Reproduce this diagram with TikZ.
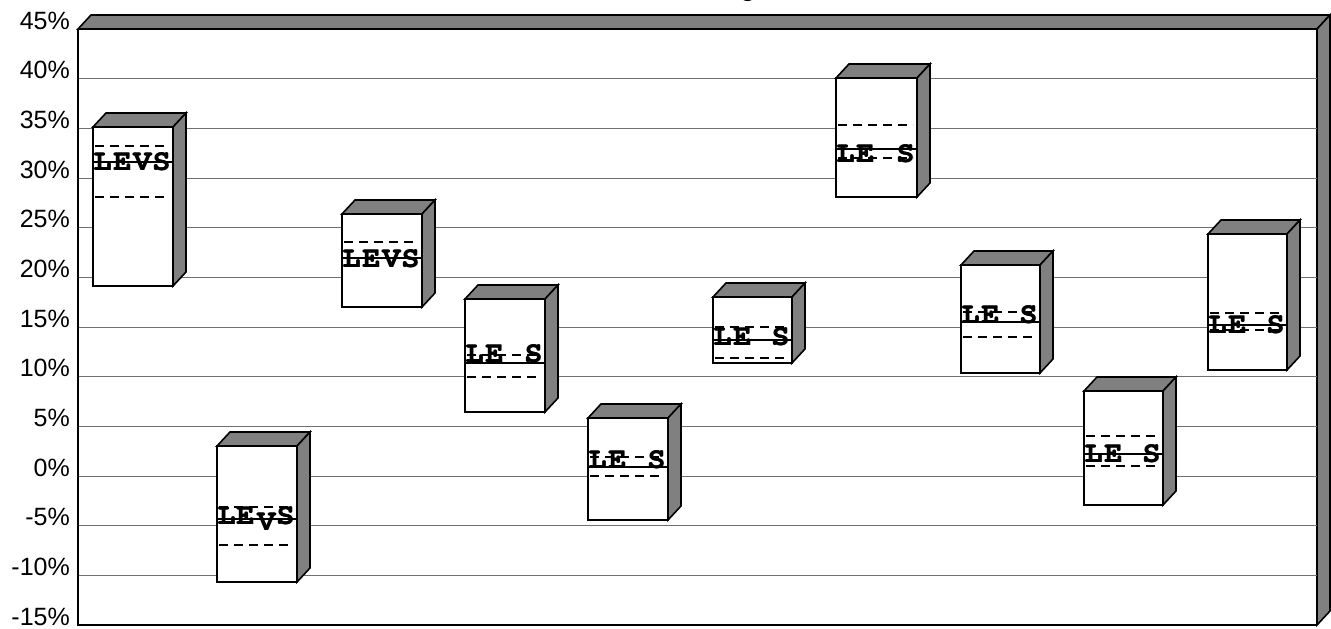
\documentclass[tikz,border=0pt]{standalone}
\usepackage[T1]{fontenc}
\usepackage{fontspec}
\setmainfont{Liberation Sans}
\definecolor{wallgray}{HTML}{808080}
\definecolor{gridgray}{HTML}{707070}
\newcommand\courbold{\fontencoding{T1}\fontfamily{pcr}\fontseries{b}\fontshape{n}\selectfont}
\tikzset{
  boxline/.style={draw=black, line width=1.6pt, line join=miter},
  gridln/.style={draw=gridgray, line width=0.9pt},
  dashln/.style={draw=black, line width=1.7pt, dash pattern=on 9pt off 6pt},
  solidln/.style={draw=black, line width=1.3pt},
  axislab/.style={font=\fontsize{25}{25}\selectfont, anchor=base east, inner sep=0pt},
  ltr/.style={font=\courbold\fontsize{30}{30}\selectfont, anchor=base, inner sep=0pt},
}
% #1 left #2 top #3 right #4 bottom
\newcommand\cbox[4]{%
  \filldraw[boxline, fill=wallgray] (#1,#2) -- ++(13,-14) -- ++({#3-#1},0) -- (#3,#2) -- cycle;
  \filldraw[boxline, fill=wallgray] (#3,#2) -- ++(13,-14) -- ++(0,{#4-#2}) -- (#3,#4) -- cycle;
  \filldraw[boxline, fill=white] (#1,#2) rectangle (#3,#4);
}
\newcommand\dashl[3]{\draw[dashln] ({#1+2},#3) -- ({#2-4},#3);}
\newcommand\solidl[3]{\draw[solidln] (#1,#3) -- (#2,#3);}
\newcommand\ltrn[3]{\node[ltr] at (#1,#2) {#3};\node[ltr] at ({#1+0.8},#2) {#3};}
\begin{document}
\begin{tikzpicture}[x=1pt,y=-1pt]
\useasboundingbox (0,0) rectangle (1331,629);
% partial title (cut off at the top edge)
\node[font=\bfseries\fontsize{24}{24}\selectfont, anchor=base, inner sep=0pt] (title) at (748,-3) {g};
% walls
\filldraw[boxline, fill=wallgray] (78,29) -- (91,15) -- (1330,15) -- (1317,29) -- cycle;
\filldraw[boxline, fill=wallgray] (1317,29) -- (1330,15) -- (1330,611) -- (1317,625) -- cycle;
% gridlines and labels
\foreach \v in {45,40,...,-15}{
  \pgfmathsetmacro\yy{29+(45-\v)*9.9333}
  \ifnum\v<45 \ifnum\v>-15 \draw[gridln] (78,\yy) -- (1317,\yy); \fi\fi
  \node[axislab] at (70,\yy) {\v\%};
}
% frame
\draw[boxline] (78,29) -- (78,625) -- (1317,625);
% box 1
\cbox{93}{127}{173}{286}
\dashl{93}{173}{146}\dashl{93}{173}{197}\solidl{93}{173}{162}
\ltrn{102}{170}{L}\ltrn{122}{170}{E}\ltrn{142}{170}{V}\ltrn{161}{170}{S}
% box 2
\cbox{217}{446}{297}{582}
\dashl{217}{297}{507}\dashl{217}{297}{545}\solidl{217}{297}{519}
\ltrn{226}{524}{L}\ltrn{245}{524}{E}\ltrn{266}{530}{V}\ltrn{285}{524}{S}
% box 3
\cbox{342}{214}{422}{307}
\dashl{342}{422}{242}\solidl{342}{422}{258}
\ltrn{351}{267}{L}\ltrn{371}{267}{E}\ltrn{391}{267}{V}\ltrn{410}{267}{S}
% box 4
\cbox{465}{299}{545}{412}
\dashl{465}{545}{355}\dashl{465}{545}{377}\solidl{465}{545}{363}
\ltrn{474}{362}{L}\ltrn{494}{362}{E}\ltrn{533}{362}{S}
% box 5
\cbox{588}{418}{668}{520}
\dashl{588}{668}{457}\dashl{588}{668}{476}\solidl{588}{668}{467}
\ltrn{597}{468}{L}\ltrn{617}{468}{E}\ltrn{656}{468}{S}
% box 6
\cbox{713}{297}{792}{363}
\dashl{713}{792}{327}\dashl{713}{792}{358}\solidl{713}{792}{340}
\ltrn{722}{345}{L}\ltrn{742}{345}{E}\ltrn{780}{345}{S}
% box 7
\cbox{836}{78}{917}{197}
\dashl{836}{917}{125}\dashl{836}{917}{158}\solidl{836}{917}{149}
\ltrn{845}{162}{L}\ltrn{865}{162}{E}\ltrn{905}{162}{S}
% box 8
\cbox{961}{265}{1040}{373}
\dashl{961}{1040}{312}\dashl{961}{1040}{337}\solidl{961}{1040}{322}
\ltrn{970}{323}{L}\ltrn{990}{323}{E}\ltrn{1028}{323}{S}
% box 9
\cbox{1084}{391}{1163}{505}
\dashl{1084}{1163}{436}\dashl{1084}{1163}{466}\solidl{1084}{1163}{454}
\ltrn{1093}{462}{L}\ltrn{1113}{462}{E}\ltrn{1151}{462}{S}
% box 10
\cbox{1208}{234}{1287}{370}
\dashl{1208}{1287}{313}\dashl{1208}{1287}{330}\solidl{1208}{1287}{325}
\ltrn{1217}{333}{L}\ltrn{1237}{333}{E}\ltrn{1275}{333}{S}
\end{tikzpicture}
\end{document}
